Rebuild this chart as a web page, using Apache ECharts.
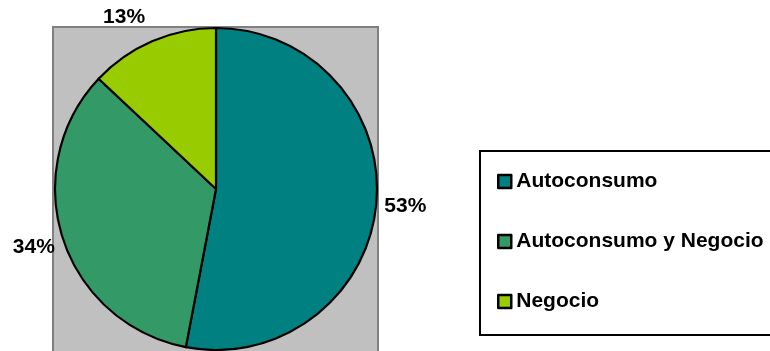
<!DOCTYPE html>
<html>
<head>
<meta charset="utf-8">
<script src="https://cdn.jsdelivr.net/npm/echarts@6/dist/echarts.min.js"></script>
<style>
  html, body { margin: 0; padding: 0; background: #ffffff; }
  #chart { width: 770px; height: 351px; }
</style>
</head>
<body>
<div id="chart"></div>
<script>
// Destino de la producción (porcentaje de hogares)
const categories = ['Autoconsumo', 'Autoconsumo y Negocio', 'Negocio'];
const shares = [53, 34, 13];
const sliceColors = ['#008080', '#339966', '#99CC00'];
// small nudges for the outside percentage labels [dx, dy]
const labelNudges = [[0, 2], [0, 8], [1, -24]];

const FONT = '"Liberation Sans", Arial, sans-serif';

const chart = echarts.init(document.getElementById('chart'), null, { renderer: 'canvas' });

chart.setOption({
  animation: false,
  color: sliceColors,
  graphic: [
    {
      type: 'rect',
      z: 0,
      shape: { x: 53, y: 27, width: 325, height: 340 },
      style: { fill: '#c0c0c0', stroke: '#808080', lineWidth: 2 }
    },
    {
      type: 'rect',
      z: 0,
      shape: { x: 480, y: 151, width: 320, height: 184 },
      style: { fill: '#ffffff', stroke: '#000000', lineWidth: 2 }
    }
  ],
  legend: {
    orient: 'vertical',
    left: 497,
    top: 171,
    padding: 0,
    itemWidth: 13,
    itemHeight: 13,
    itemGap: 39,
    icon: 'rect',
    itemStyle: { borderColor: '#000000', borderWidth: 2.5 },
    textStyle: {
      fontFamily: FONT,
      fontWeight: 'bold',
      fontSize: 21,
      lineHeight: 21,
      color: '#000000'
    },
    data: categories
  },
  series: [
    {
      type: 'pie',
      center: [216, 189],
      radius: 161,
      startAngle: 90,
      clockwise: true,
      avoidLabelOverlap: false,
      itemStyle: { borderColor: '#000000', borderWidth: 2.2 },
      emphasis: { disabled: true },
      label: {
        show: true,
        position: 'outside',
        formatter: '{c}%',
        distanceToLabelLine: 8,
        fontFamily: FONT,
        fontWeight: 'bold',
        fontSize: 21,
        color: '#000000'
      },
      labelLine: { show: false, length: 0, length2: 0 },
      labelLayout: function (params) {
        const n = labelNudges[params.dataIndex];
        return { dx: n[0], dy: n[1] };
      },
      data: categories.map((name, i) => ({ name: name, value: shares[i] }))
    }
  ]
});
</script>
</body>
</html>
